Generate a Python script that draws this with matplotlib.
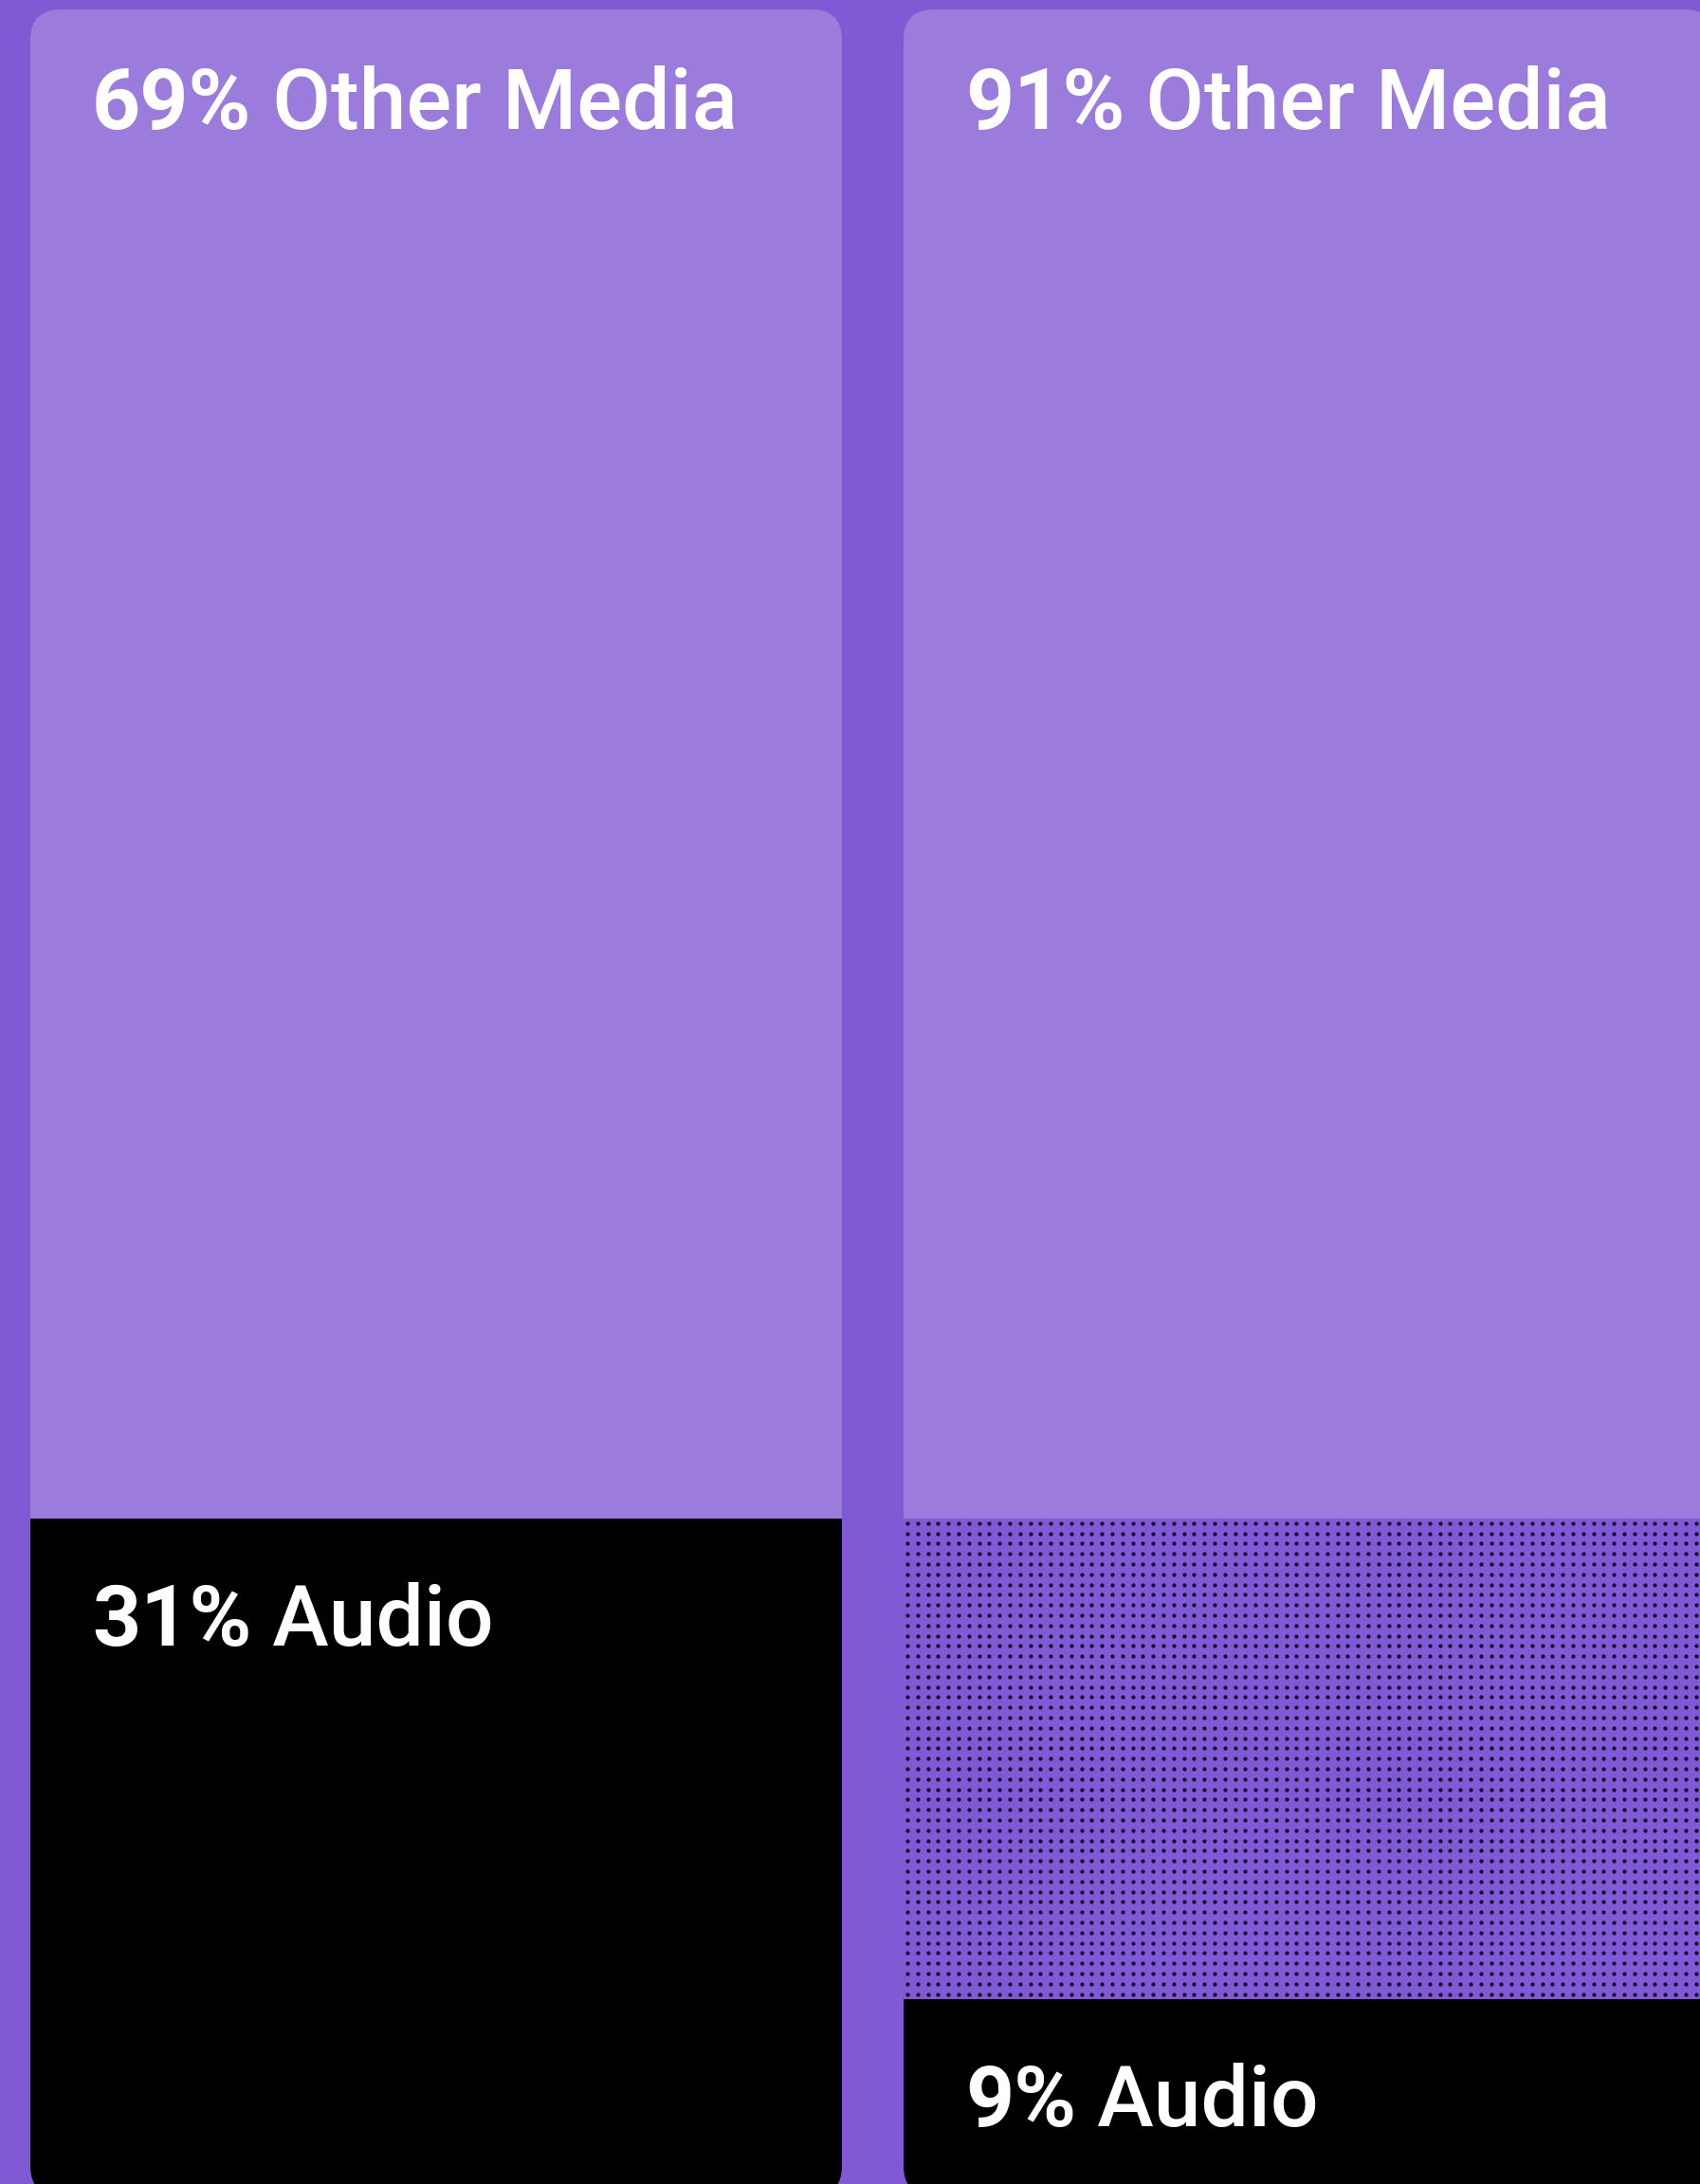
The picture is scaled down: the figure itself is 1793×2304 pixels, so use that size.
import numpy as np
import matplotlib
matplotlib.use('Agg')
import matplotlib.pyplot as plt
from matplotlib.patches import FancyBboxPatch
from matplotlib import transforms

# shares per column (percent)
columns = ['left', 'right']
audio = [31, 9]
other_media = [69, 91]
reference_audio = audio[0]  # right column shows the drop from the left audio share as dots

bg = '#7f5ad4'
light = '#9b7cdc'
black = '#000000'
dot_color = '#14082a'

DPI = 130
W, H = 1793, 2304
x_px = 921.0    # pixels per column step
y_px = 23.07    # pixels per percent
x0_px = 460.0   # pixel centre of first column
y0_px = 2317.0  # pixel of 0 %
bar_w = 856 / x_px
radius = 32 / x_px
FONT = 'Roboto'
FS = 49.5

fig = plt.figure(figsize=(W / DPI, H / DPI), dpi=DPI, facecolor=bg)
ax = fig.add_axes([0, 0, 1, 1])
ax.set_facecolor(bg)
ax.set_xlim(-x0_px / x_px, (W - x0_px) / x_px)
ax.set_ylim((y0_px - H) / y_px, y0_px / y_px)
ax.axis('off')

x = np.arange(len(columns))

for i in x:
    clip = FancyBboxPatch((i - bar_w / 2, 0), bar_w, 100,
                          boxstyle=f'round,pad=0,rounding_size={radius}',
                          mutation_aspect=x_px / y_px,
                          facecolor='none', edgecolor='none', transform=ax.transData)
    ax.add_patch(clip)

    dotted_top = max(reference_audio, audio[i])
    bars = []
    bars += ax.bar(i, audio[i], width=bar_w, color=black, linewidth=0)
    if dotted_top > audio[i]:
        bars += ax.bar(i, dotted_top - audio[i], bottom=audio[i], width=bar_w, color=bg, linewidth=0)
        # dot grid inside the dotted block
        step = 10.8
        xs_px = np.arange(4, 856, step)
        ys_px = np.arange(5, (dotted_top - audio[i]) * y_px - 2, step)
        gx, gy = np.meshgrid(xs_px, ys_px)
        dx = (i - bar_w / 2) + gx.ravel() / x_px
        dy = dotted_top - gy.ravel() / y_px
        dots = ax.scatter(dx, dy, s=5.5, color=dot_color, linewidths=0, zorder=3)
        dots.set_clip_path(clip)
    bars += ax.bar(i, 100 - dotted_top, bottom=dotted_top, width=bar_w, color=light, linewidth=0)
    for b in bars:
        b.set_clip_path(clip)


def label(xv, yv, num, word, baseline_px):
    tr = transforms.offset_copy(ax.transData, fig=fig, x=65 * 72 / DPI,
                                y=-baseline_px * 72 / DPI, units='points')
    t1 = ax.text(xv, yv, num, transform=tr, color='white', fontsize=FS,
                 fontfamily=FONT, fontweight='bold', va='baseline', ha='left')
    ax.annotate(' ' + word, xy=(1, 0), xycoords=t1, color='white', fontsize=FS,
                fontfamily=FONT, fontweight='medium', va='bottom', ha='left')


for i in x:
    left = i - bar_w / 2
    label(left, 100, f'{other_media[i]}%', 'Other Media', 126)
    label(left, audio[i], f'{audio[i]}%', 'Audio', 134)

fig.savefig('out.png', dpi=DPI, facecolor=bg)
